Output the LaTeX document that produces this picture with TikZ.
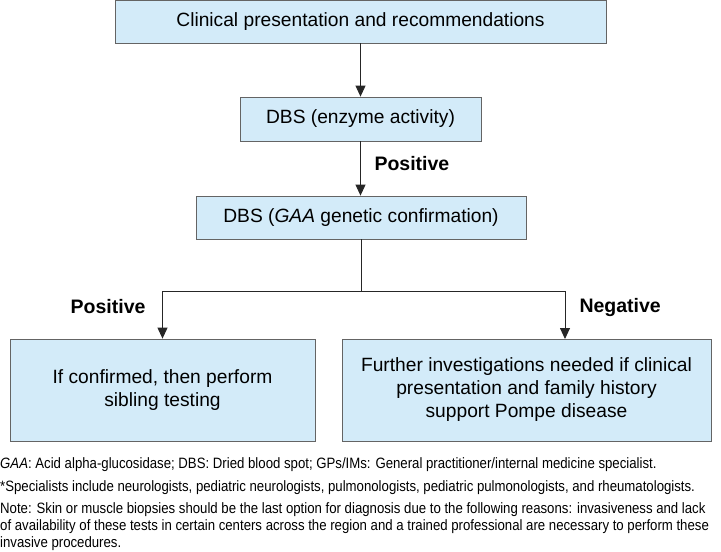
\documentclass[tikz,border=0pt]{standalone}
\usepackage{fontspec}
\setmainfont{Liberation Sans}
\newfontfamily\notefont[FakeStretch=0.88]{Liberation Sans}
\usetikzlibrary{arrows.meta}

\definecolor{boxblue}{RGB}{211,235,249}
\definecolor{boxline}{RGB}{100,100,100}

\begin{document}
\begin{tikzpicture}[x=1pt, y=-1pt,
        box/.style={draw=boxline, fill=boxblue, line width=0.8pt, inner sep=0pt,
                    font=\fontsize{19.2}{23}\selectfont, align=center},
        flow/.style={draw=black!85, line width=0.9pt, -{Triangle[width=10pt,length=11pt]}},
        tag/.style={font=\fontsize{19.5}{22}\selectfont\bfseries},
        note/.style={anchor=north west, inner sep=0pt, align=left,
                     font=\notefont\fontsize{15}{17}\selectfont}]
        \useasboundingbox (0,0) rectangle (721,552);
%        \draw [help lines] (0,0) grid[step=50pt] (721,552);
        \node [box, minimum width=491pt, minimum height=43pt] (clin) at (360.5,21.5) {Clinical presentation and recommendations};
        \node [box, minimum width=241pt, minimum height=44pt] (enz)  at (360.5,119)  {DBS (enzyme activity)};
        \node [box, minimum width=330pt, minimum height=43pt] (gen)  at (361,217.5)  {DBS (\textit{GAA} genetic confirmation)};
        \node [box, minimum width=305pt, minimum height=102pt] (sib) at (162.5,390) {If confirmed, then perform\\sibling testing};
        \node [box, minimum width=369pt, minimum height=102pt] (inv) at (526.5,390) {Further investigations needed if clinical\\presentation and family history\\support Pompe disease};

        \coordinate (split) at (361,291);
        \coordinate (invin) at (565,339);

        \draw [flow] (clin.south) -- (clin.south |- enz.north);
        \draw [flow] (enz.south) -- (enz.south |- gen.north);
        \draw [line width=0.9pt, draw=black!85] (gen.south) -- (split);
        \draw [flow] (split) -| (sib.north);
        \draw [flow] (split) -| (invin);

        \node [tag, anchor=west] (pos1) at (371,164) {Positive};
        \node [tag, anchor=east] (pos2) at (149,307) {Positive};
        \node [tag, anchor=west] (neg)  at (576,307) {Negative};

        \node [note] (abbr) at (0,457) {\textit{GAA}: Acid alpha-glucosidase; DBS: Dried blood spot; GPs/IMs: General practitioner/internal medicine specialist.};
        \node [note] (spec) at (0,480.5) {*Specialists include neurologists, pediatric neurologists, pulmonologists, pediatric pulmonologists, and rheumatologists.};
        \node [note] (bx)   at (0,502.5) {Note: Skin or muscle biopsies should be the last option for diagnosis due to the following reasons: invasiveness and lack\\of availability of these tests in certain centers across the region and a trained professional are necessary to perform these\\invasive procedures.};
\end{tikzpicture}
\end{document}
